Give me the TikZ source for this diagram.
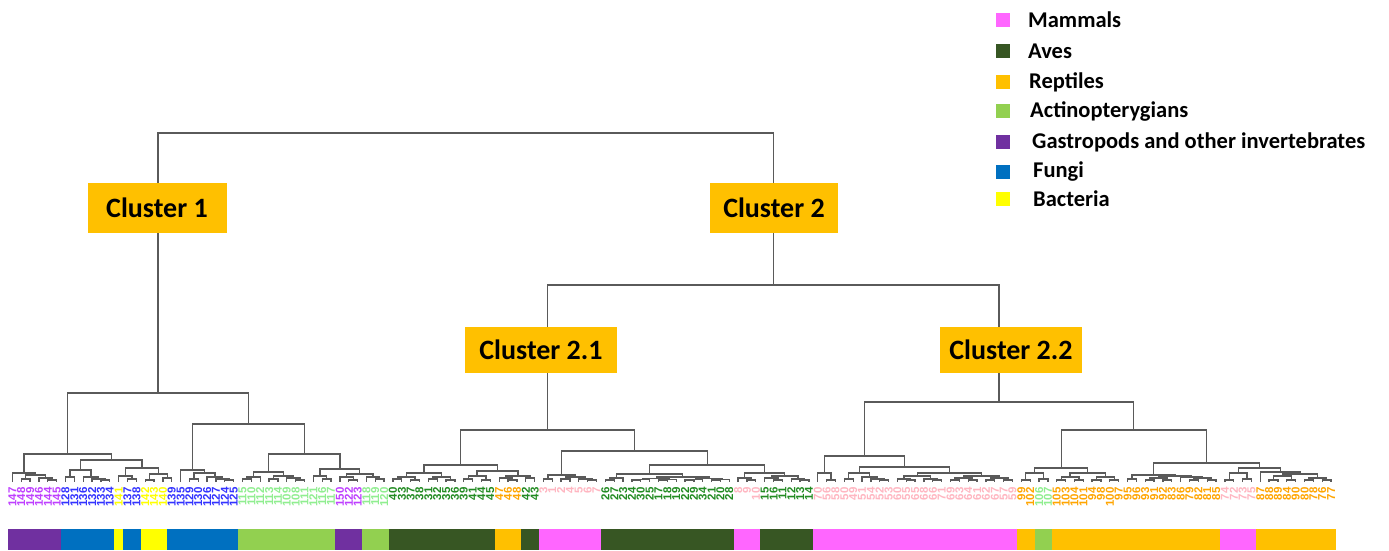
\documentclass[tikz,border=0pt]{standalone}
\usepackage{fontspec}
\setmainfont{Carlito}
\newfontfamily\labfont{Liberation Sans}
\usetikzlibrary{calc}
\definecolor{cM}{HTML}{FF66FF}
\definecolor{cA}{HTML}{375623}
\definecolor{cR}{HTML}{FFC000}
\definecolor{cG}{HTML}{92D050}
\definecolor{cP}{HTML}{7030A0}
\definecolor{cB}{HTML}{0070C0}
\definecolor{cY}{HTML}{FFFF00}
\definecolor{tM}{HTML}{FFB6C1}
\definecolor{tA}{HTML}{228B22}
\definecolor{tR}{HTML}{FFA500}
\definecolor{tG}{HTML}{90EE90}
\definecolor{tP}{HTML}{BF40FF}
\definecolor{tB}{HTML}{3333FF}
\definecolor{tY}{HTML}{FFFF00}
\definecolor{dgray}{HTML}{5A5A5A}
\tikzset{
  dline/.style={draw=dgray,line width=1.3pt},
  lab/.style={rotate=90,anchor=east,inner sep=0pt,font=\labfont\bfseries\fontsize{11.5}{11.5}\selectfont},
  clbox/.style={fill=cR,inner sep=0pt,font=\fontsize{28}{30}\selectfont\bfseries,text=black},
  sq/.style={minimum size=14pt,inner sep=0pt},
  leg/.style={anchor=west,inner sep=0pt,font=\fontsize{22.5}{24}\selectfont\bfseries,text=black}
}
\newcommand\mrg[4]{%
  \path let \p1=($(#2)!0.5!(#3)$), \p2=(0,#4) in (\x1,\y2) coordinate (#1);
  \draw[dline] (#2) |- (#1) -| (#3);}
\begin{document}
\begin{tikzpicture}[x=1pt,y=-1pt]
\useasboundingbox (0,0) rectangle (1389,550);
\fill[white] (0,0) rectangle (1389,550);
\foreach \i in {0,...,149} \coordinate (l\i) at ({12.43+8.85*\i},482);
% ---------- Cluster 1
\mrg{a45}{l4}{l5}{480}\mrg{a35}{l3}{a45}{478}\mrg{a12}{l1}{l2}{479}\mrg{a15}{a12}{a35}{475}\mrg{A1}{l0}{a15}{473}
\mrg{b67}{l6}{l7}{477}\mrg{b1011}{l10}{l11}{480}\mrg{b911}{l9}{b1011}{479}\mrg{b811}{l8}{b911}{477}\mrg{A2a}{b67}{b811}{470}
\mrg{c1314}{l13}{l14}{479}\mrg{c1214}{l12}{c1314}{476}\mrg{c1516}{l15}{l16}{480}\mrg{c1718}{l17}{l18}{478}\mrg{c1518}{c1516}{c1718}{474}\mrg{A2b}{c1214}{c1518}{468}
\mrg{A2}{A2a}{A2b}{460}
\mrg{A}{A1}{A2}{454}
\mrg{d2021}{l20}{l21}{479}\mrg{d2425}{l24}{l25}{480}\mrg{d2325}{l23}{d2425}{479}\mrg{d2225}{l22}{d2325}{477}\mrg{d2025}{d2021}{d2225}{473}\mrg{B1}{l19}{d2025}{470}
\mrg{e2627}{l26}{l27}{479}\mrg{e2628}{e2627}{l28}{477}\mrg{e2930}{l29}{l30}{479}\mrg{e3233}{l32}{l33}{480}\mrg{e3133}{l31}{e3233}{478}\mrg{e2933}{e2930}{e3133}{476}\mrg{B2a}{e2628}{e2933}{472}
\mrg{f3536}{l35}{l36}{479}\mrg{f3436}{l34}{f3536}{476}\mrg{f3839}{l38}{l39}{480}\mrg{f3739}{l37}{f3839}{477}\mrg{f4142}{l41}{l42}{479}\mrg{f4042}{l40}{f4142}{477}\mrg{f3742}{f3739}{f4042}{474}\mrg{B2b}{f3436}{f3742}{469}
\mrg{B2}{B2a}{B2b}{454}
\mrg{B}{B1}{B2}{424}
\mrg{C1}{A}{B}{393}
% ---------- Cluster 2.1
\mrg{g4344}{l43}{l44}{479}\mrg{g4546}{l45}{l46}{480}\mrg{g4346}{g4344}{g4546}{477}\mrg{g4748}{l47}{l48}{479}\mrg{g4950}{l49}{l50}{480}\mrg{g4750}{g4748}{g4950}{477}\mrg{PL}{g4346}{g4750}{473}
\mrg{h5152}{l51}{l52}{479}\mrg{h5354}{l53}{l54}{480}\mrg{h5154}{h5152}{h5354}{476}\mrg{h5657}{l56}{l57}{480}\mrg{h5557}{l55}{h5657}{478}\mrg{h5859}{l58}{l59}{478}\mrg{h5559}{h5557}{h5859}{476}\mrg{PR}{h5154}{h5559}{471}
\mrg{P}{PL}{PR}{465}
\mrg{i6061}{l60}{l61}{479}\mrg{i6263}{l62}{l63}{479}\mrg{i6566}{l65}{l66}{480}\mrg{i6466}{l64}{i6566}{479}\mrg{i6266}{i6263}{i6466}{477}\mrg{Q1}{i6061}{i6266}{475}
\mrg{j6768}{l67}{l68}{480}\mrg{j6769}{j6768}{l69}{478}
\mrg{j7071}{l70}{l71}{480}\mrg{j7072}{j7071}{l72}{479.5}\mrg{j7374}{l73}{l74}{480}\mrg{j7375}{j7374}{l75}{479.5}\mrg{j7075}{j7072}{j7375}{478.5}
\mrg{j7677}{l76}{l77}{480}\mrg{j7678}{j7677}{l78}{479.5}\mrg{j7980}{l79}{l80}{480}\mrg{j7981}{j7980}{l81}{479.5}\mrg{j7681}{j7678}{j7981}{478.5}
\mrg{j7081}{j7075}{j7681}{477}\mrg{Q2a}{j6769}{j7081}{474}
\mrg{k8384}{l83}{l84}{480}\mrg{k8284}{l82}{k8384}{478}\mrg{k8687}{l86}{l87}{480}\mrg{k8587}{l85}{k8687}{478}\mrg{k8990}{l89}{l90}{480}\mrg{k8890}{l88}{k8990}{479}\mrg{k8590}{k8587}{k8890}{476}\mrg{Q2b}{k8284}{k8590}{473}
\mrg{Q2}{Q2a}{Q2b}{465}
\mrg{Q}{Q1}{Q2}{451}
\mrg{C21}{P}{Q}{430}
% ---------- Cluster 2.2
\mrg{m9293}{l92}{l93}{480}\mrg{R1}{l91}{m9293}{473}
\mrg{n9495}{l94}{l95}{479}\mrg{n9899}{l98}{l99}{480}\mrg{n9799}{l97}{n9899}{479}\mrg{n9699}{l96}{n9799}{477}\mrg{R2a}{n9495}{n9699}{473}
\mrg{o101}{l101}{l102}{480}\mrg{o100}{l100}{o101}{479}\mrg{o104}{l104}{l105}{480}\mrg{o103}{l103}{o104}{479}\mrg{R2b1}{o100}{o103}{476}
\mrg{p106}{l106}{l107}{480}\mrg{p108}{l108}{l109}{480}\mrg{p106b}{p106}{p108}{478}\mrg{p110}{l110}{l111}{480}\mrg{p112}{l112}{l113}{480}\mrg{p110b}{p110}{p112}{478}\mrg{R2b2}{p106b}{p110b}{476}
\mrg{R2b}{R2b1}{R2b2}{473}
\mrg{R2}{R2a}{R2b}{467}
\mrg{R}{R1}{R2}{456}
\mrg{q114}{l114}{l115}{480}\mrg{q116}{l116}{l117}{479}\mrg{S1a}{q114}{q116}{473}
\mrg{q118}{l118}{l119}{480}\mrg{q120}{l120}{l121}{480}\mrg{q118b}{q118}{q120}{477}\mrg{q122}{l122}{l123}{480}\mrg{q124}{l124}{l125}{480}\mrg{q122b}{q122}{q124}{477}\mrg{S1b}{q118b}{q122b}{473}
\mrg{S1}{S1a}{S1b}{468}
\mrg{r126}{l126}{l127}{479}
\mrg{r128}{l128}{l129}{480}\mrg{r130}{l130}{l131}{480}\mrg{r128b}{r128}{r130}{478}\mrg{r133}{l133}{l134}{480}\mrg{r135}{l135}{l136}{480}\mrg{r133b}{r133}{r135}{478}\mrg{r132}{l132}{r133b}{477}\mrg{r128c}{r128b}{r132}{476}
\mrg{S2L}{r126}{r128c}{475}
\mrg{s137}{l137}{l138}{480}\mrg{s139}{l139}{l140}{479}\mrg{s137b}{s137}{s139}{473}
\mrg{s142}{l142}{l143}{480}\mrg{s144}{l144}{l145}{480}\mrg{s142b}{s142}{s144}{476}\mrg{s146}{l146}{l147}{480}\mrg{s148}{l148}{l149}{480}\mrg{s146b}{s146}{s148}{478}\mrg{s142c}{s142b}{s146b}{474}\mrg{s141}{l141}{s142c}{472}
\mrg{S2R}{s137b}{s141}{468}
\mrg{S2}{S2L}{S2R}{463}
\mrg{S}{S1}{S2}{430}
\mrg{C22}{R}{S}{402}
\mrg{C2}{C21}{C22}{285}
\mrg{root}{C1}{C2}{133}
% ---------- leaf labels
\foreach \tx/\kk [count=\n from 0] in {147/P,148/P,149/P,146/P,144/P,145/P,128/B,131/B,136/B,132/B,133/B,134/B,141/Y,137/B,138/B,142/Y,143/Y,140/Y,139/B,135/B,129/B,130/B,126/B,127/B,124/B,125/B,115/G,110/G,112/G,113/G,114/G,109/G,108/G,111/G,121/G,116/G,117/G,150/P,122/P,123/P,118/G,119/G,120/G,40/A,33/A,37/A,38/A,31/A,32/A,35/A,36/A,39/A,41/A,44/A,45/A,47/R,46/R,48/R,42/A,43/A,3/M,1/M,2/M,4/M,5/M,6/M,7/M,26/A,27/A,23/A,24/A,30/A,25/A,17/A,18/A,19/A,22/A,29/A,34/A,21/A,20/A,28/A,8/M,9/M,10/M,15/A,16/A,11/A,12/A,13/A,14/A,70/M,56/M,58/M,50/M,49/M,51/M,54/M,52/M,53/M,60/M,55/M,65/M,68/M,66/M,71/M,69/M,63/M,64/M,61/M,62/M,67/M,57/M,59/M,99/R,102/R,106/G,107/G,105/R,103/R,104/R,101/R,94/R,98/R,100/R,97/R,95/R,96/R,93/R,91/R,92/R,83/R,86/R,79/R,82/R,81/R,85/R,74/M,72/M,73/M,75/M,87/R,88/R,89/R,84/R,90/R,80/R,78/R,76/R,77/R}
  \node[lab,text=t\kk] (t\n) at ({12.43+8.85*\n},487) {\tx};
% ---------- colour bar
\foreach \a/\b/\kk in {0/6/P,6/12/B,12/13/Y,13/15/B,15/18/Y,18/26/B,26/37/G,37/40/P,40/43/G,43/55/A,55/58/R,58/60/A,60/67/M,67/82/A,82/85/M,85/91/A,91/114/M,114/116/R,116/118/G,118/137/R,137/141/M,141/150/R}
  \fill[c\kk] ({8+8.85*\a},529) rectangle ({8+8.85*\b},550);
% ---------- cluster boxes
\node[clbox,minimum width=139pt,minimum height=50pt] (k1) at (157,208) {Cluster 1};
\node[clbox,minimum width=128pt,minimum height=50pt] (k2) at (774,208) {Cluster 2};
\node[clbox,minimum width=152pt,minimum height=46pt] (k21) at (541,350) {Cluster 2.1};
\node[clbox,minimum width=142pt,minimum height=46pt] (k22) at (1011,350) {Cluster 2.2};
% ---------- legend
\foreach \yy/\xx/\kk/\txt in {20/1028/M/Mammals,51/1028/A/Aves,82/1029/R/Reptiles,111/1030/G/Actinopterygians,142/1032/P/Gastropods and other invertebrates,172/1033/B/Fungi,199/1033/Y/Bacteria}{
  \node[sq,fill=c\kk] (s\kk) at (1003,\yy) {};
  \node[leg] (g\kk) at (\xx,\yy) {\txt};
}
\end{tikzpicture}
\end{document}
